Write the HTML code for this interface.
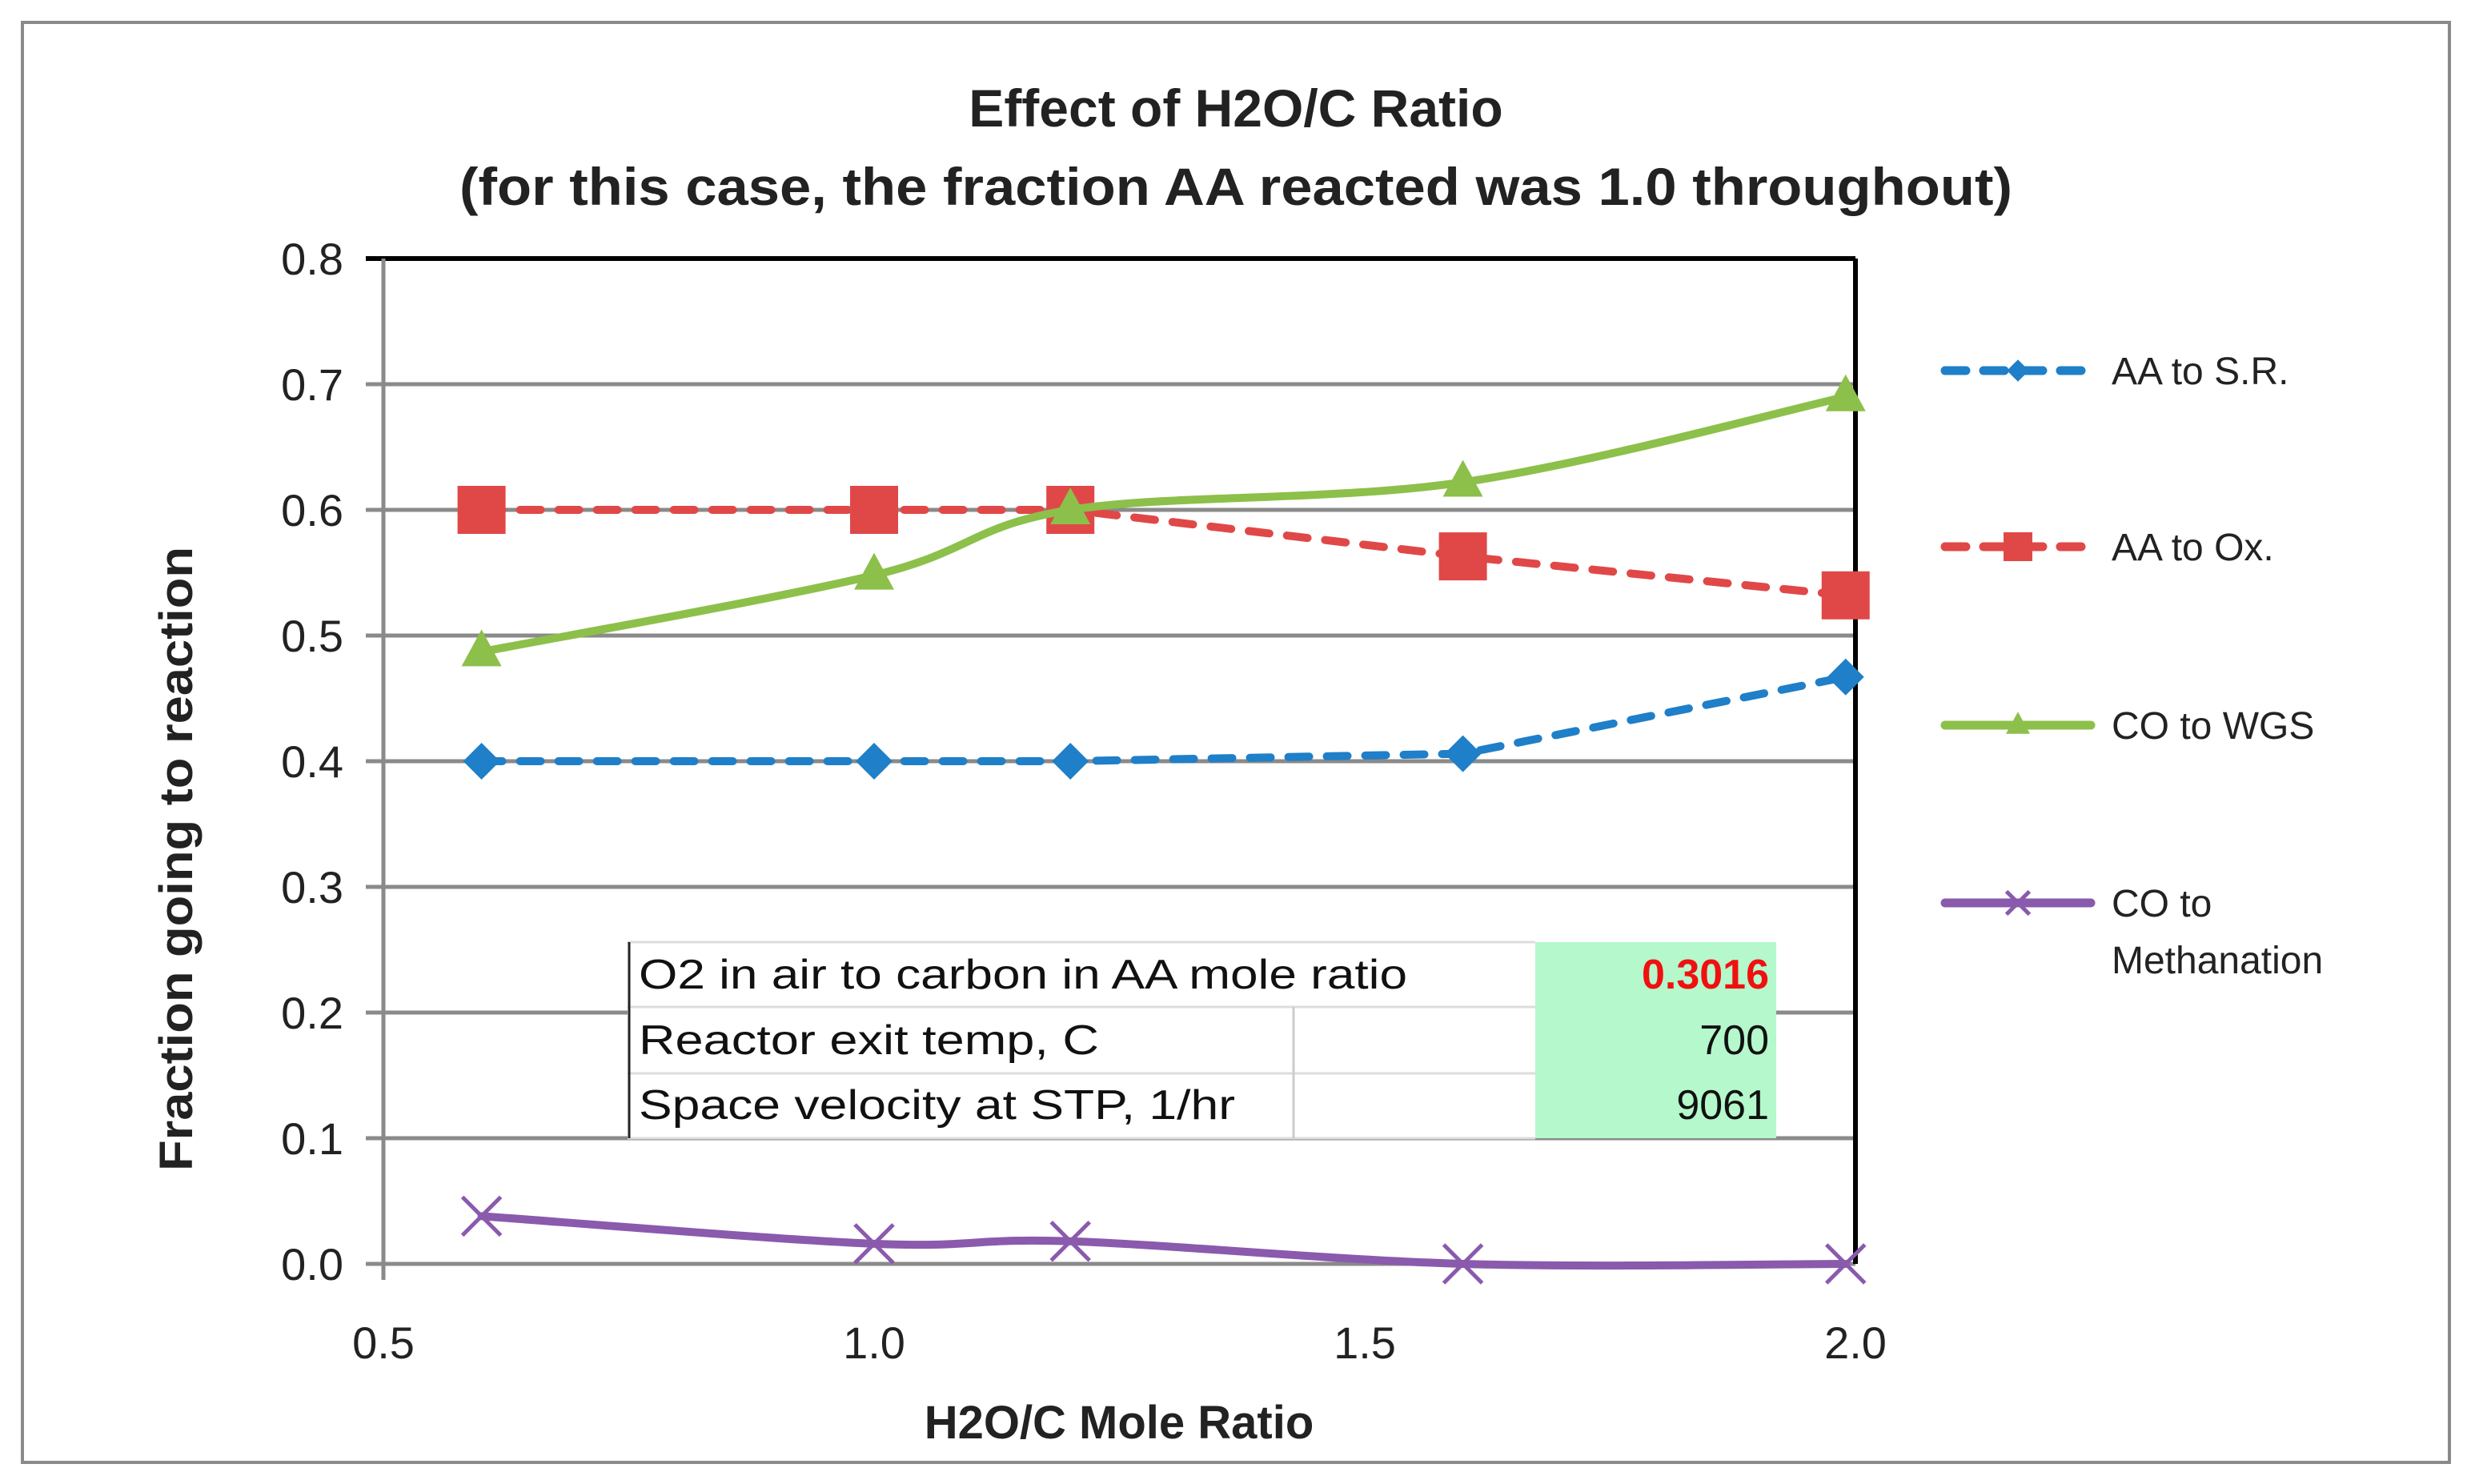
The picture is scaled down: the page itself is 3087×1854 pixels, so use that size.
<!DOCTYPE html>
<html><head><meta charset="utf-8"><style>
html,body{margin:0;padding:0;background:#fff;}
svg{display:block;font-family:"Liberation Sans",sans-serif;}
</style></head><body>
<svg id="chart" width="3087" height="1854" viewBox="0 0 3087 1854" xmlns="http://www.w3.org/2000/svg">
<rect x="28" y="28" width="3032" height="1799" fill="#fff" stroke="#8a8a8a" stroke-width="4"/>
<text x="1544" y="158" text-anchor="middle" font-size="66" font-weight="bold" fill="#222">Effect of H2O/C Ratio</text>
<text x="1544" y="256" text-anchor="middle" font-size="66" font-weight="bold" fill="#222" textLength="1940" lengthAdjust="spacingAndGlyphs">(for this case, the fraction AA reacted was 1.0 throughout)</text>
<g id="grid"></g>
<g id="table">
<rect x="784" y="1177" width="1435" height="245" fill="#fff"/>
<rect x="1918" y="1177" width="301" height="245" fill="#b4f8cc"/>
<line x1="784" y1="1177" x2="1918" y2="1177" stroke="#ddd" stroke-width="3"/>
<line x1="784" y1="1258" x2="1918" y2="1258" stroke="#ddd" stroke-width="3"/>
<line x1="784" y1="1341" x2="1918" y2="1341" stroke="#ddd" stroke-width="3"/>
<line x1="784" y1="1422" x2="1918" y2="1422" stroke="#ddd" stroke-width="3"/>
<line x1="786" y1="1177" x2="786" y2="1422" stroke="#222" stroke-width="3"/>
<line x1="1616" y1="1258" x2="1616" y2="1422" stroke="#ccc" stroke-width="3"/>
<text x="798" y="1235" font-size="52" fill="#111" textLength="960" lengthAdjust="spacingAndGlyphs">O2 in air to carbon in AA mole ratio</text>
<text x="2210" y="1235" text-anchor="end" font-size="52" font-weight="bold" fill="#f01010">0.3016</text>
<text x="798" y="1317" font-size="52" fill="#111" textLength="575" lengthAdjust="spacingAndGlyphs">Reactor exit temp, C</text>
<text x="2210" y="1317" text-anchor="end" font-size="52" fill="#111">700</text>
<text x="798" y="1398" font-size="52" fill="#111" textLength="745" lengthAdjust="spacingAndGlyphs">Space velocity at STP, 1/hr</text>
<text x="2210" y="1398" text-anchor="end" font-size="52" fill="#111">9061</text>
</g>
<g id="series"></g>
<text x="1398" y="1797" text-anchor="middle" font-size="58" font-weight="bold" fill="#222">H2O/C Mole Ratio</text>
<text transform="translate(240,1073) rotate(-90)" text-anchor="middle" font-size="58" font-weight="bold" fill="#222" textLength="780" lengthAdjust="spacingAndGlyphs">Fraction going to reaction</text>
<g id="legend"></g>
</svg>
<script>
const xValues = [0.6, 1.0, 1.2, 1.6, 1.99];
const srValues = [0.4, 0.4, 0.4, 0.406, 0.467];
const oxValues = [0.6, 0.6, 0.6, 0.563, 0.532];
const wgsValues = [0.487, 0.548, 0.6, 0.622, 0.69];
const methValues = [0.038, 0.016, 0.018, 0.0, 0.0];
const yTicks = [0, 0.1, 0.2, 0.3, 0.4, 0.5, 0.6, 0.7, 0.8];
const xTicks = [0.5, 1.0, 1.5, 2.0];
const seriesNames = ["AA to S.R.", "AA to Ox.", "CO to WGS", "CO to Methanation"];

const NS = "http://www.w3.org/2000/svg";
const L = 479, R = 2318, T = 323, B = 1579;
const xs = v => L + (v - 0.5) / 1.5 * (R - L);
const ys = v => B - v / 0.8 * (B - T);
function mk(tag, attrs, parent) {
  const e = document.createElementNS(NS, tag);
  for (const k in attrs) e.setAttribute(k, attrs[k]);
  parent.appendChild(e);
  return e;
}
const grid = document.getElementById("grid");
yTicks.forEach((t, i) => {
  const y = ys(t);
  const g = mk("line", {x1: L - 22, y1: y, x2: R, y2: y, stroke: i === yTicks.length - 1 ? "#000" : "#8a8a8a", "stroke-width": i === yTicks.length - 1 ? 6 : 5}, grid);
  
  
  const tx = mk("text", {x: L - 50, y: y + 20, "text-anchor": "end", "font-size": 56, fill: "#222"}, grid);
  tx.textContent = t.toFixed(1);
  
  
});
const ax = mk("line", {x1: L, y1: T, x2: L, y2: B + 20, stroke: "#8a8a8a", "stroke-width": 5}, grid);


const rax = mk("line", {x1: R, y1: T, x2: R, y2: B, stroke: "#000", "stroke-width": 6}, grid);


xTicks.forEach(t => {
  const tx = mk("text", {x: xs(t), y: 1697, "text-anchor": "middle", "font-size": 56, fill: "#222"}, grid);
  tx.textContent = t.toFixed(1);
  
  
});

function smoothPath(pts) {
  let d = `M${pts[0][0]},${pts[0][1]}`;
  for (let i = 0; i < pts.length - 1; i++) {
    const p0 = pts[i - 1] || pts[i], p1 = pts[i], p2 = pts[i + 1], p3 = pts[i + 2] || p2;
    const c1 = [p1[0] + (p2[0] - p0[0]) / 6, p1[1] + (p2[1] - p0[1]) / 6];
    const c2 = [p2[0] - (p3[0] - p1[0]) / 6, p2[1] - (p3[1] - p1[1]) / 6];
    d += ` C${c1[0]},${c1[1]} ${c2[0]},${c2[1]} ${p2[0]},${p2[1]}`;
  }
  return d;
}
function marker(type, x, y, color, parent, k) {
  let e;
  if (type === "diamond") e = mk("polygon", {points: `${x},${y-23*k} ${x+23*k},${y} ${x},${y+23*k} ${x-23*k},${y}`, fill: color}, parent);
  else if (type === "square") e = mk("rect", {x: x - 30*k, y: y - 30*k, width: 60*k, height: 60*k, fill: color}, parent);
  else if (type === "triangle") e = mk("polygon", {points: `${x},${y-28*k} ${x+25*k},${y+18*k} ${x-25*k},${y+18*k}`, fill: color}, parent);
  else e = mk("path", {d: `M${x-24*k},${y-24*k}L${x+24*k},${y+24*k}M${x-24*k},${y+24*k}L${x+24*k},${y-24*k}`, stroke: color, "stroke-width": 5, fill: "none"}, parent);
  return e;
}
const series = [
  {vals: srValues, color: "#1f7fc8", dash: "26 22", smooth: false, m: "diamond", name: "series-aa-to-sr"},
  {vals: oxValues, color: "#e04848", dash: "26 22", smooth: false, m: "square", name: "series-aa-to-ox"},
  {vals: wgsValues, color: "#8cc04a", dash: null, smooth: true, m: "triangle", name: "series-co-to-wgs"},
  {vals: methValues, color: "#8a5aad", dash: null, smooth: true, m: "cross", name: "series-co-to-methanation"}
];
const sg = document.getElementById("series");
series.forEach(s => {
  const g = mk("g", {}, sg);
  
  
  const pts = xValues.map((x, i) => [xs(x), ys(s.vals[i])]);
  const d = s.smooth ? smoothPath(pts) : "M" + pts.map(p => p.join(",")).join(" L");
  const a = {d: d, fill: "none", stroke: s.color, "stroke-width": 10, "stroke-linecap": "round", "stroke-linejoin": "round"};
  if (s.dash) a["stroke-dasharray"] = s.dash;
  const line = mk("path", a, g);
  
  
  pts.forEach(p => {
    const mm = marker(s.m, p[0], p[1], s.color, g, 1);
    
    
  });
});
const lg = document.getElementById("legend");
const legY = [463, 683, 906, 1128];
series.forEach((s, i) => {
  const g = mk("g", {}, lg);
  
  
  const a = {x1: 2430, y1: legY[i], x2: 2612, y2: legY[i], stroke: s.color, "stroke-width": 11, "stroke-linecap": "round"};
  if (s.dash) a["stroke-dasharray"] = s.dash;
  mk("line", a, g);
  marker(s.m, 2521, legY[i], s.color, g, 0.6);
  const t = mk("text", {x: 2638, y: legY[i] + 17, "font-size": 48, fill: "#222"}, g);
  if (i === 3) {
    t.textContent = "CO to";
    const t2 = mk("text", {x: 2638, y: legY[i] + 88, "font-size": 48, fill: "#222"}, g);
    t2.textContent = "Methanation";
  } else t.textContent = seriesNames[i];
});
</script>
</body></html>
